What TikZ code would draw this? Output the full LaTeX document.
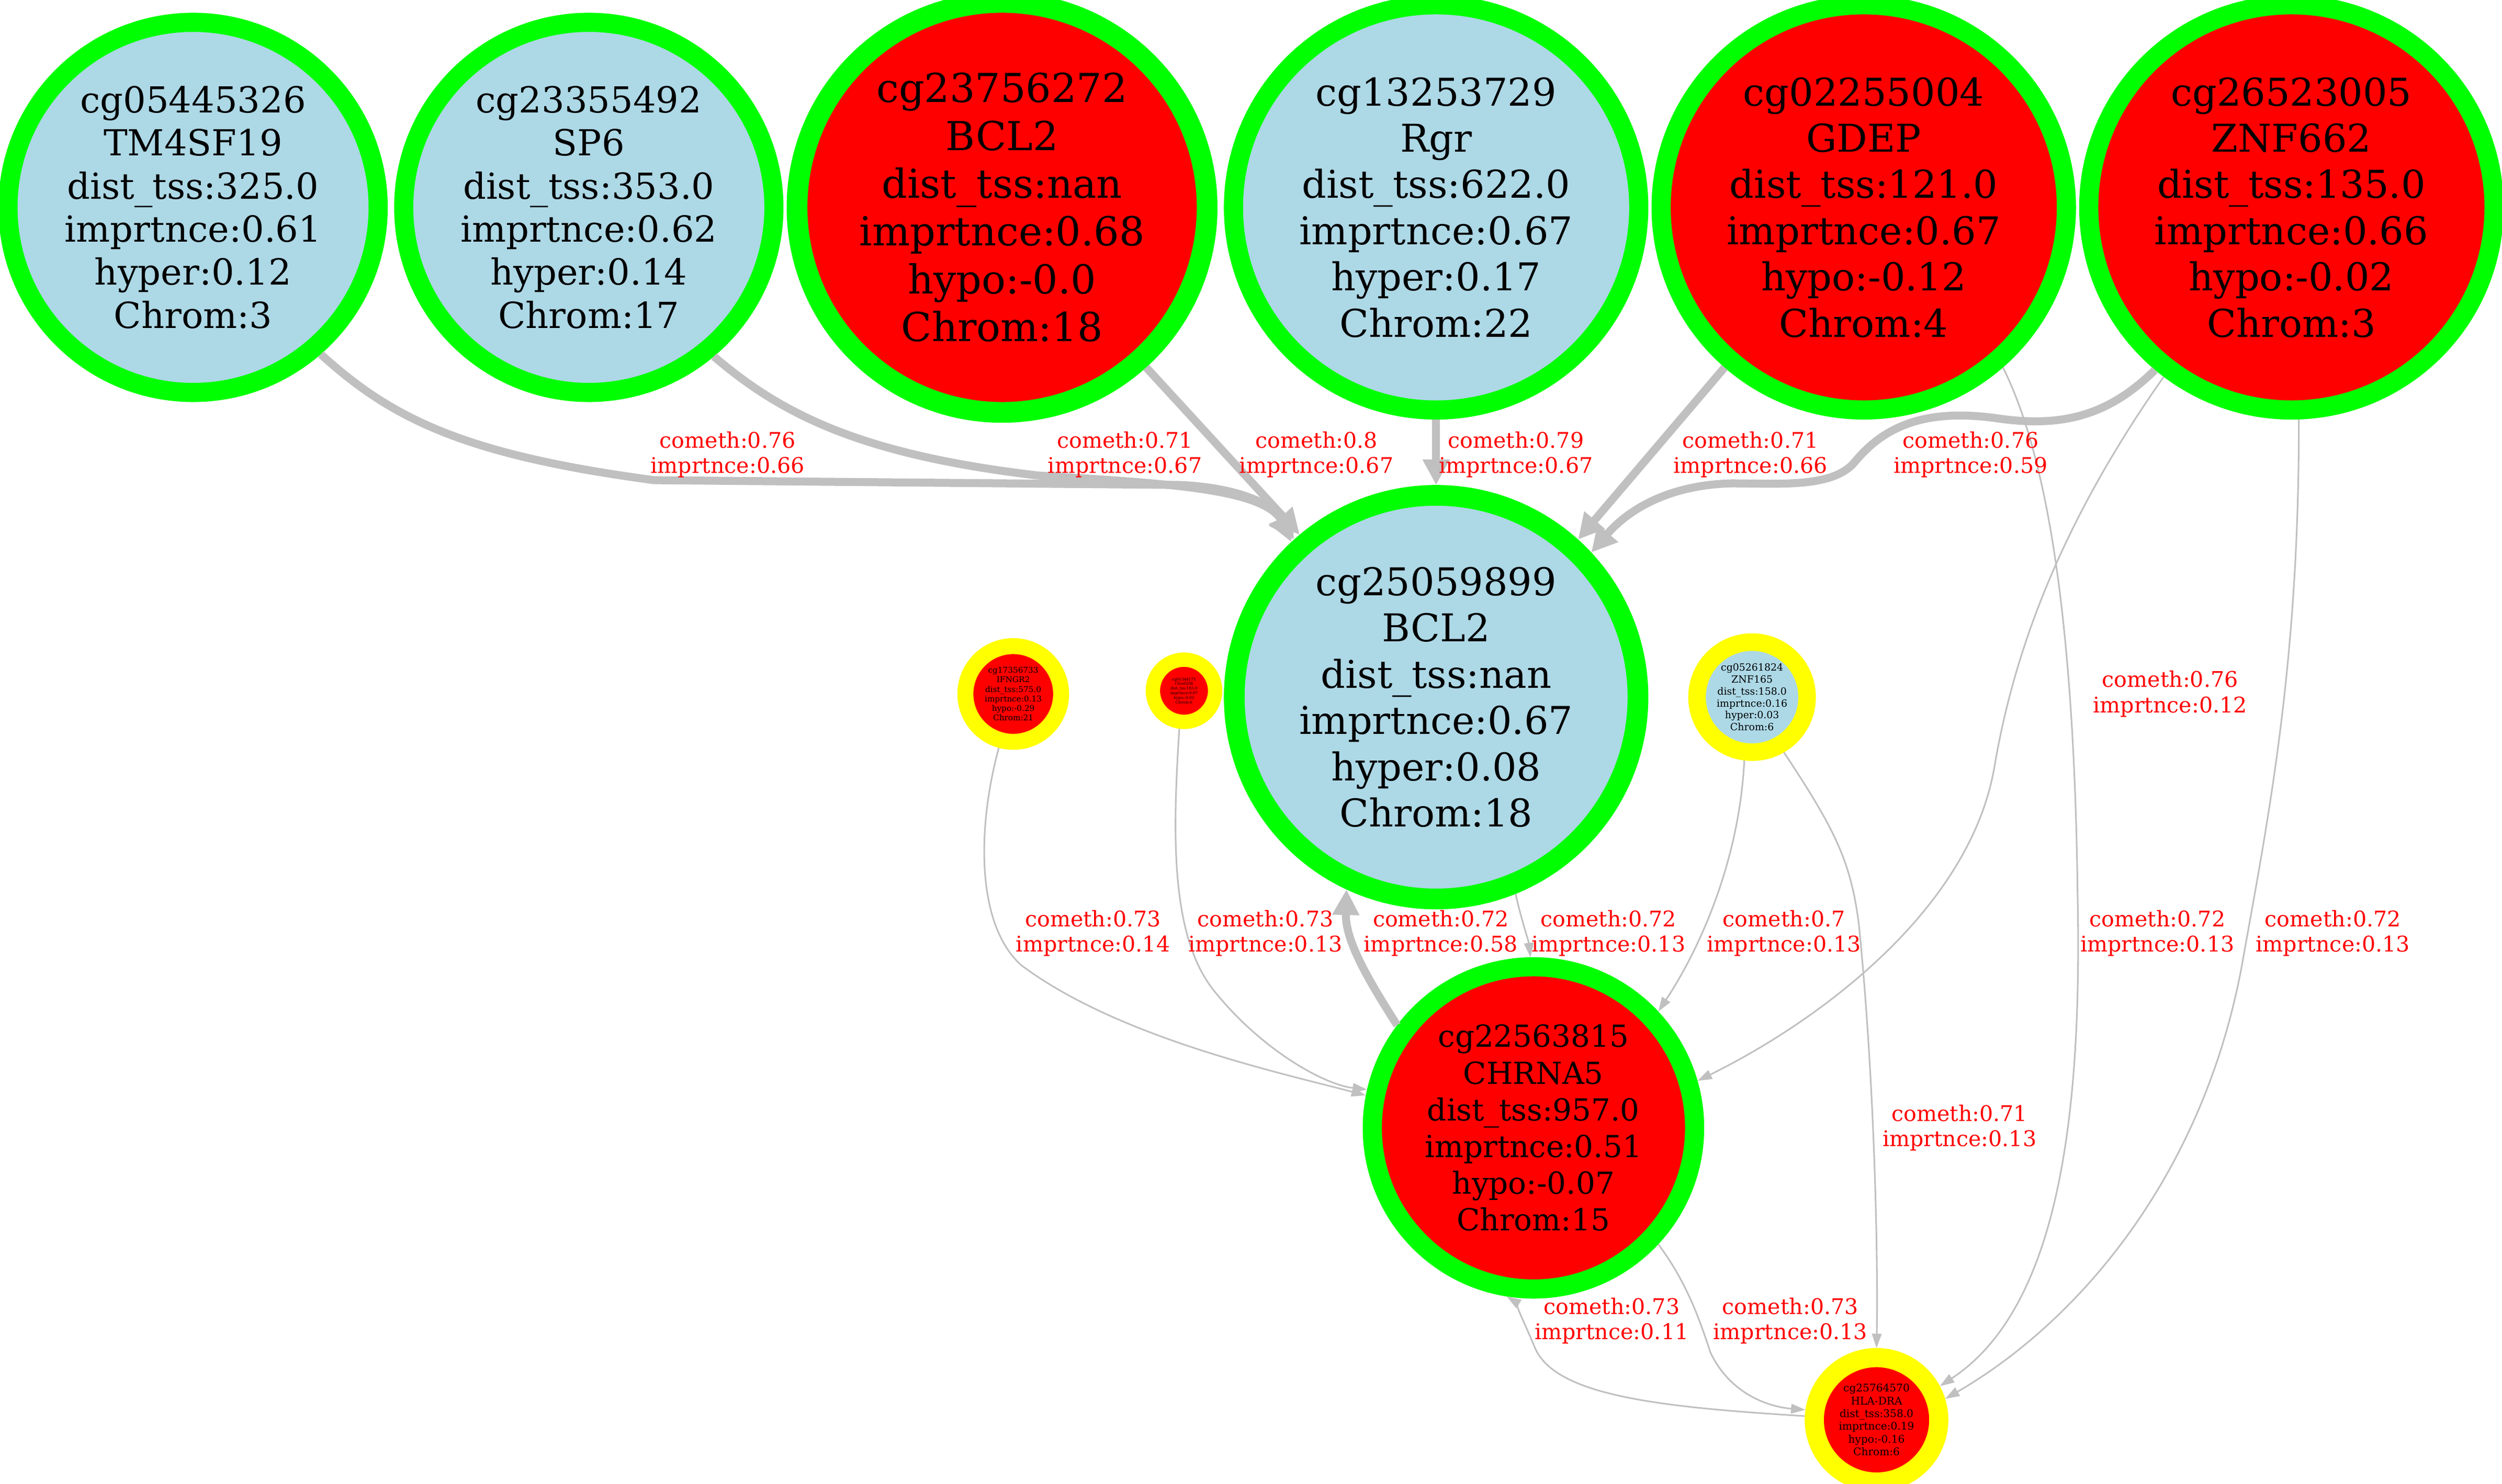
\documentclass[tikz,border=0pt]{standalone}
\usepackage{fontspec}
\setmainfont{DejaVu Serif}
\usetikzlibrary{arrows.meta}
\definecolor{nodeblue}{HTML}{ADD8E6}
\definecolor{ringgreen}{HTML}{00FF00}
\definecolor{ringyellow}{HTML}{FFFF00}
\definecolor{nodered}{HTML}{FF0000}
\definecolor{edgegray}{HTML}{C0C0C0}
\newcommand{\fs}[2]{\fontsize{#1}{#2}\selectfont}
\begin{document}
\begin{tikzpicture}[x=1pt,y=-1pt,
  cpg/.style={circle, inner sep=0pt, align=center},
  hub/.style={cpg, draw=ringgreen},
  leaf/.style={cpg, draw=ringyellow},
  fat edge/.style={draw=edgegray, line width=5pt, -{Triangle[length=16pt,width=16pt]}},
  thin edge/.style={draw=edgegray, line width=1pt, -{Triangle[length=9pt,width=6pt]}},
  elabel/.style={text=nodered, align=center, font=\fs{13.5}{16}}]
\useasboundingbox (0,0) rectangle (1568,930);
% top row
\node[hub, fill=nodeblue, line width=12pt, minimum size=232pt, font=\fs{22.5}{27}] (cg05445326) at (121,130){cg05445326\\TM4SF19\\dist\_tss:325.0\\imprtnce:0.61\\hyper:0.12\\Chrom:3};
\node[hub, fill=nodeblue, line width=12pt, minimum size=232pt, font=\fs{22.5}{27}] (cg23355492) at (369,130){cg23355492\\SP6\\dist\_tss:353.0\\imprtnce:0.62\\hyper:0.14\\Chrom:17};
\node[hub, fill=nodered, line width=13pt, minimum size=257pt, font=\fs{25}{30}] (cg23756272) at (628,130){cg23756272\\BCL2\\dist\_tss:nan\\imprtnce:0.68\\hypo:-0.0\\Chrom:18};
\node[hub, fill=nodeblue, line width=12pt, minimum size=254pt, font=\fs{24}{29}] (cg13253729) at (900,130){cg13253729\\Rgr\\dist\_tss:622.0\\imprtnce:0.67\\hyper:0.17\\Chrom:22};
\node[hub, fill=nodered, line width=12pt, minimum size=254pt, font=\fs{24}{29}] (cg02255004) at (1168,130){cg02255004\\GDEP\\dist\_tss:121.0\\imprtnce:0.67\\hypo:-0.12\\Chrom:4};
\node[hub, fill=nodered, line width=12pt, minimum size=254pt, font=\fs{24}{29}] (cg26523005) at (1436,130){cg26523005\\ZNF662\\dist\_tss:135.0\\imprtnce:0.66\\hypo:-0.02\\Chrom:3};
% middle row
\node[hub, fill=nodeblue, line width=13pt, minimum size=253pt, font=\fs{24}{29}] (cg25059899) at (900,437){cg25059899\\BCL2\\dist\_tss:nan\\imprtnce:0.67\\hyper:0.08\\Chrom:18};
\node[leaf, fill=nodered, line width=10pt, minimum size=60pt, font=\fs{5}{6}] (cg17356733) at (635,435){cg17356733\\IFNGR2\\dist\_tss:575.0\\imprtnce:0.13\\hypo:-0.29\\Chrom:21};
\node[leaf, fill=nodered, line width=9pt, minimum size=39pt, font=\fs{2.4}{2.9}] (cg01344171) at (742,433){cg01344171\\C6orf208\\dist\_tss:183.0\\imprtnce:0.07\\hypo:-0.02\\Chrom:6};
\node[leaf, fill=nodeblue, line width=11pt, minimum size=69pt, font=\fs{6.2}{7.5}] (cg05261824) at (1098,437){cg05261824\\ZNF165\\dist\_tss:158.0\\imprtnce:0.16\\hyper:0.03\\Chrom:6};
% bottom
\node[hub, fill=nodered, line width=12pt, minimum size=202pt, font=\fs{19}{23}] (cg22563815) at (961,707){cg22563815\\CHRNA5\\dist\_tss:957.0\\imprtnce:0.51\\hypo:-0.07\\Chrom:15};
\node[leaf, fill=nodered, line width=12pt, minimum size=78pt, font=\fs{6.6}{8}] (cg25764570) at (1176,890){cg25764570\\HLA-DRA\\dist\_tss:358.0\\imprtnce:0.19\\hypo:-0.16\\Chrom:6};
% heavy edges into cg25059899
\draw[fat edge] (cg05445326.-49) .. controls (245,262) and (290,285) .. (410,301) -- (740,304) .. controls (780,306) and (800,318) .. (cg25059899.133);
\draw[fat edge] (cg23355492.-50) .. controls (490,260) and (540,285) .. (650,298) .. controls (730,303) and (790,306) .. (cg25059899.132);
\draw[fat edge] (cg23756272.-48) -- (cg25059899.130);
\draw[fat edge] (cg13253729.-90) -- (cg25059899.90);
\draw[fat edge] (cg02255004.-131) -- (cg25059899.48);
\draw[fat edge] (cg26523005.-130) .. controls (1320,262) and (1290,268) .. (1250,262) .. controls (1205,256) and (1180,268) .. (1162,290) .. controls (1148,306) and (1115,303) .. (1085,303) .. controls (1045,304) and (1020,320) .. (cg25059899.43);
\draw[fat edge] (cg22563815.143) .. controls (858,615) and (843,590) .. (cg25059899.-115);
% light edges
\draw[thin edge] (cg25059899.-68) .. controls (953,575) and (958,590) .. (cg22563815.91);
\draw[thin edge] (cg05261824.-97) .. controls (1090,540) and (1065,595) .. (cg22563815.43);
\draw[thin edge] (cg05261824.-60) .. controls (1150,520) and (1160,540) .. (1165,580) .. controls (1175,680) and (1177,790) .. (cg25764570.90);
\draw[thin edge] (cg26523005.-127) .. controls (1290,330) and (1262,410) .. (1250,480) .. controls (1235,570) and (1140,640) .. (cg22563815.16);
\draw[thin edge] (cg02255004.-49) .. controls (1285,290) and (1300,400) .. (1302,560) .. controls (1305,700) and (1290,820) .. (cg25764570.28);
\draw[thin edge] (cg26523005.-88) .. controls (1441,420) and (1420,520) .. (1405,605) .. controls (1380,740) and (1300,830) .. (cg25764570.17);
\draw[thin edge] (cg17356733.-105) .. controls (612,520) and (612,580) .. (640,605) .. controls (700,650) and (800,672) .. (cg22563815.169);
\draw[thin edge] (cg01344171.-97) .. controls (735,520) and (733,585) .. (760,620) .. controls (790,658) and (830,680) .. (cg22563815.167);
\draw[thin edge] (cg25764570.177) .. controls (1040,882) and (975,875) .. (962,845) .. controls (955,828) and (948,815) .. (cg22563815.-99);
\draw[thin edge] (cg22563815.-43) .. controls (1058,805) and (1066,830) .. (1072,848) .. controls (1085,875) and (1110,882) .. (cg25764570.172);
% edge labels
\node[elabel] (l1) at (456,285){cometh:0.76\\imprtnce:0.66};
\node[elabel] (l2) at (705,285){cometh:0.71\\imprtnce:0.67};
\node[elabel] (l3) at (825,285){cometh:0.8\\imprtnce:0.67};
\node[elabel] (l4) at (950,285){cometh:0.79\\imprtnce:0.67};
\node[elabel] (l5) at (1097,285){cometh:0.71\\imprtnce:0.66};
\node[elabel] (l6) at (1235,285){cometh:0.76\\imprtnce:0.59};
\node[elabel] (l7) at (1360,435){cometh:0.76\\imprtnce:0.12};
\node[elabel] (l8) at (685,585){cometh:0.73\\imprtnce:0.14};
\node[elabel] (l9) at (793,585){cometh:0.73\\imprtnce:0.13};
\node[elabel] (l10) at (903,585){cometh:0.72\\imprtnce:0.58};
\node[elabel] (l11) at (1008,585){cometh:0.72\\imprtnce:0.13};
\node[elabel] (l12) at (1118,585){cometh:0.7\\imprtnce:0.13};
\node[elabel] (l13) at (1352,585){cometh:0.72\\imprtnce:0.13};
\node[elabel] (l14) at (1462,585){cometh:0.72\\imprtnce:0.13};
\node[elabel] (l15) at (1228,707){cometh:0.71\\imprtnce:0.13};
\node[elabel] (l16) at (1010,828){cometh:0.73\\imprtnce:0.11};
\node[elabel] (l17) at (1122,828){cometh:0.73\\imprtnce:0.13};
\end{tikzpicture}
\end{document}
